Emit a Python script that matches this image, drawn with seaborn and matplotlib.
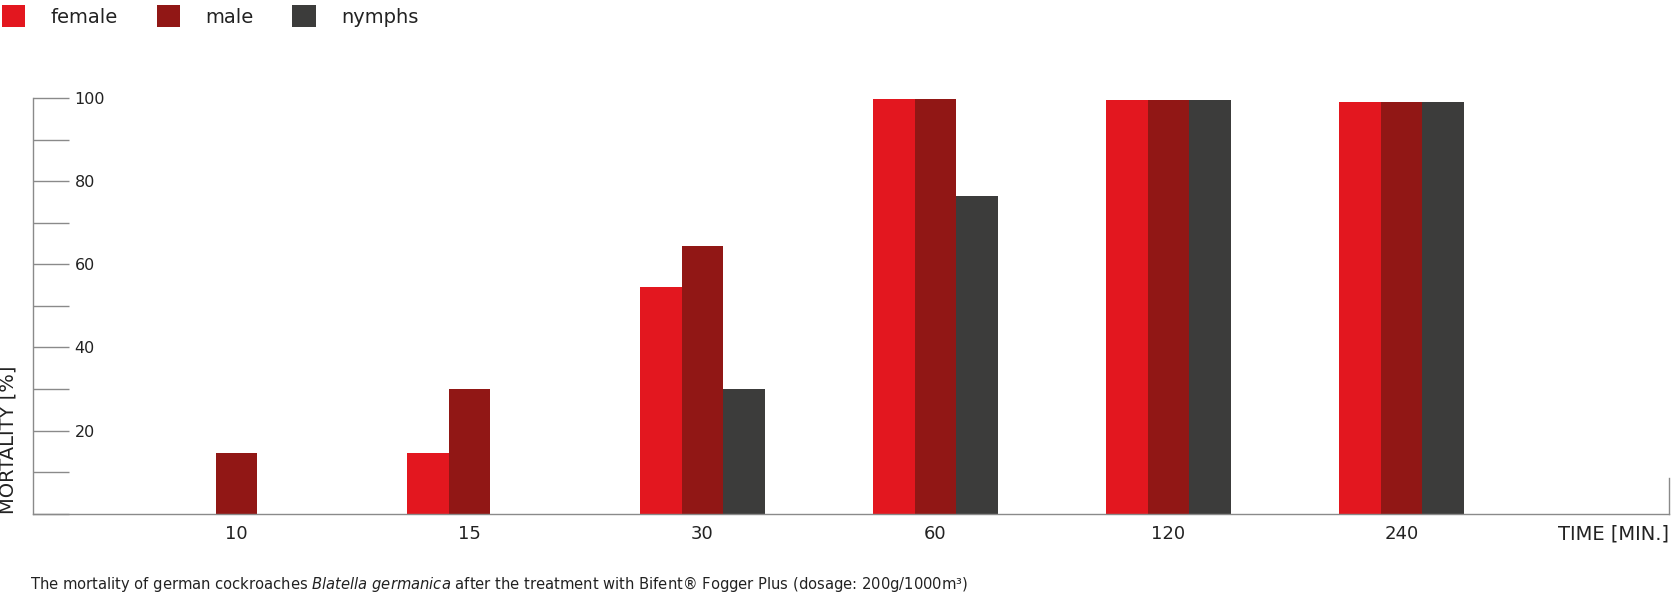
import pandas as pd
import seaborn as sns
import matplotlib.pyplot as plt
from matplotlib.ticker import MultipleLocator

sns.set_theme(style="white")
plt.rcParams["font.family"] = ["DejaVu Sans"]
plt.rcParams["mathtext.fontset"] = "custom"
plt.rcParams["mathtext.rm"] = "DejaVu Sans"
plt.rcParams["mathtext.it"] = "DejaVu Sans:italic"

times = ["10", "15", "30", "60", "120", "240"]
female = [0, 14.5, 54.5, 99.7, 99.5, 99.0]
male = [14.5, 30.0, 64.5, 99.7, 99.5, 99.0]
nymphs = [0, 0, 30.0, 76.5, 99.5, 99.0]
groups = ["female", "male", "nymphs"]
colors = ["#e3171f", "#911715", "#3c3c3b"]

df = pd.DataFrame({"time": times, "female": female, "male": male, "nymphs": nymphs})
df = df.melt(id_vars="time", var_name="group", value_name="mortality")

fig = plt.figure(figsize=(16.71, 5.93), dpi=100)
ax = fig.add_axes([0.0197, 0.1337, 0.9791, 0.7011])

sns.barplot(data=df, x="time", y="mortality", hue="group", hue_order=groups,
            palette=colors, width=0.536, gap=0, linewidth=0, saturation=1, ax=ax)

ax.set_xlim(-0.874, 6.148)
ax.set_ylim(0, 100)

grey = "#8a8a8a"
ax.spines["top"].set_visible(False)
for side in ["left", "bottom", "right"]:
    ax.spines[side].set_color(grey)
    ax.spines[side].set_linewidth(1)
ax.spines["right"].set_bounds(0, 8.7)

# ticks sit inside the axis, labels to their right
ax.yaxis.set_major_locator(MultipleLocator(20))
ax.yaxis.set_minor_locator(MultipleLocator(10))
ax.set_yticks([20, 40, 60, 80, 100])
ax.tick_params(axis="y", which="both", direction="in", length=26, width=1,
               color=grey, left=True, pad=-30, labelsize=11.5, labelcolor="#222222")
for lbl in ax.get_yticklabels():
    lbl.set_ha("left")
ax.tick_params(axis="x", length=0, pad=8, labelsize=13, labelcolor="#222222")

ax.set_ylabel("MORTALITY [%]", loc="bottom", fontsize=14, color="#222222")
ax.yaxis.set_label_coords(-0.0095, 0)
ax.set_xlabel("TIME [MIN.]", loc="right", fontsize=14, color="#222222")
ax.xaxis.set_label_coords(1.0, -0.026)
ax.xaxis.label.set_va("top")

sns.move_legend(ax, loc="upper left", bbox_to_anchor=(0, 0.995), bbox_transform=fig.transFigure,
                ncol=3, frameon=False, title=None, fontsize=14, borderpad=0.1, borderaxespad=0,
                handlelength=1.2, handleheight=1.4, handletextpad=1.3, columnspacing=2.0)
for t in ax.get_legend().get_texts():
    t.set_color("#222222")

fig.text(0.018, 0.0152,
         r"The mortality of german cockroaches $\it{Blatella\ germanica}$ after the treatment "
         r"with Bifent® Fogger Plus (dosage: 200g/1000m³)",
         fontsize=10.6, color="#222222", ha="left", va="center")

fig.savefig("out.png", dpi=100)
